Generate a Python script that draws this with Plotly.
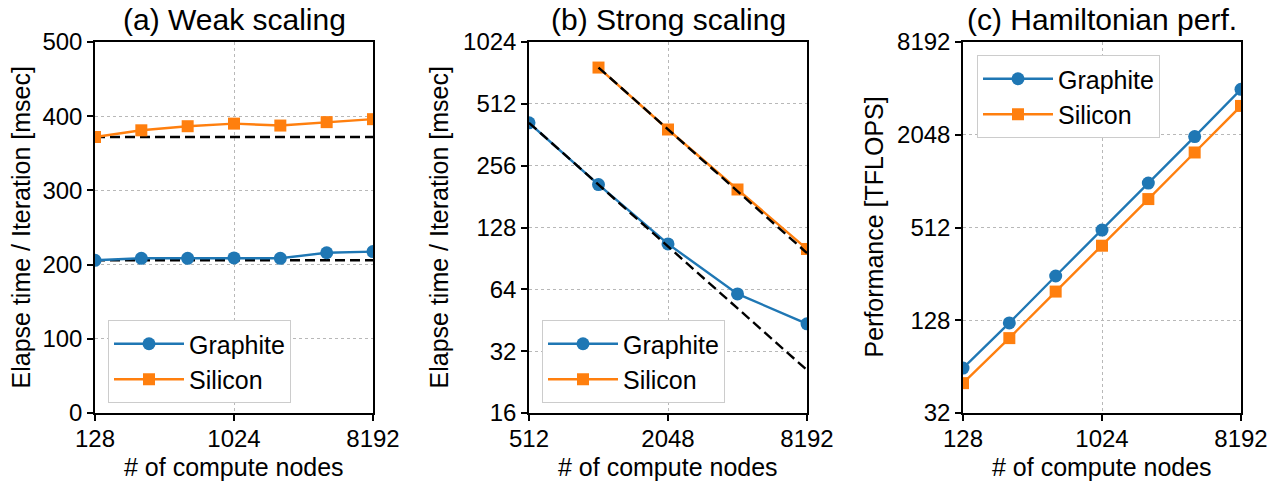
import plotly.graph_objects as go
import math

# ---------------- data ----------------
nodes_a = [128, 256, 512, 1024, 2048, 4096, 8192]
weak_graphite = [205.8, 208.5, 208.5, 209, 208.5, 216, 217.5]
weak_silicon = [372, 381, 386.5, 390, 387.4, 392, 396]

nodes_b_graphite = [512, 1024, 2048, 4096, 8192]
strong_graphite = [414, 207, 106.5, 60.8, 43.5]
nodes_b_silicon = [1024, 2048, 4096, 8192]
strong_silicon = [769, 384, 196, 100.6]

nodes_c = [128, 256, 512, 1024, 2048, 4096, 8192]
perf_graphite = [62.6, 123, 248, 493, 994, 1993, 4040]
perf_silicon = [50, 98, 196.5, 390, 783, 1571, 3150]

titles = ["(a) Weak scaling", "(b) Strong scaling", "(c) Hamiltonian perf."]
ylabels = ["Elapse time / Iteration [msec]", "Elapse time / Iteration [msec]", "Performance [TFLOPS]"]
xlabel = "# of compute nodes"
xticks_a = [128, 1024, 8192]
xticks_b = [512, 2048, 8192]
yticks_a = [0, 100, 200, 300, 400, 500]
yticks_b = [16, 32, 64, 128, 256, 512, 1024]
yticks_c = [32, 128, 512, 2048, 8192]

# ---------------- style ----------------
BLUE = "#1f77b4"
ORANGE = "#ff7f0e"
FONT = "Liberation Sans, Arial, sans-serif"
W, H = 1282, 484
plot_top, plot_bot = 42, 413
xdoms_px = [(95, 373), (529, 807), (963, 1241)]
ydom = [1 - plot_bot / H, 1 - plot_top / H]

fig = go.Figure()

def add_series(xa, ya, x, y, color, symbol, name, legend):
    fig.add_trace(go.Scatter(
        x=x, y=y, xaxis=xa, yaxis=ya, mode="lines+markers", name=name,
        line=dict(color=color, width=2.4),
        marker=dict(color=color, symbol=symbol, size=13 if symbol == "circle" else 12),
        legend=legend, cliponaxis=True))

def add_dash(xa, ya, x, y):
    fig.add_trace(go.Scatter(
        x=x, y=y, xaxis=xa, yaxis=ya, mode="lines", showlegend=False,
        line=dict(color="black", width=2.4, dash="10px,5px"), hoverinfo="skip"))

# (a)
add_dash("x", "y", nodes_a, [weak_graphite[0]] * len(nodes_a))
add_dash("x", "y", nodes_a, [weak_silicon[0]] * len(nodes_a))
add_series("x", "y", nodes_a, weak_graphite, BLUE, "circle", "Graphite", "legend")
add_series("x", "y", nodes_a, weak_silicon, ORANGE, "square", "Silicon", "legend")

# (b)
ideal_g = [strong_graphite[0] * nodes_b_graphite[0] / n for n in nodes_b_graphite]
ideal_s = [strong_silicon[0] * nodes_b_silicon[0] / n for n in nodes_b_silicon]
add_series("x2", "y2", nodes_b_graphite, strong_graphite, BLUE, "circle", "Graphite", "legend2")
add_series("x2", "y2", nodes_b_silicon, strong_silicon, ORANGE, "square", "Silicon", "legend2")
add_dash("x2", "y2", nodes_b_graphite, ideal_g)
add_dash("x2", "y2", nodes_b_silicon, ideal_s)

# (c)
add_series("x3", "y3", nodes_c, perf_graphite, BLUE, "circle", "Graphite", "legend3")
add_series("x3", "y3", nodes_c, perf_silicon, ORANGE, "square", "Silicon", "legend3")

tickfont = dict(family=FONT, size=24, color="black")
common_axis = dict(showline=True, linecolor="black", linewidth=1.5, mirror=True,
                   ticks="outside", ticklen=6, tickwidth=1.5, tickcolor="black",
                   showgrid=True, gridcolor="#b8b8b8", gridwidth=1, griddash="3px,3px",
                   zeroline=False, tickfont=tickfont, automargin=False)
xextra = dict(ticklabelstandoff=-3)

def xdom(i):
    a, b = xdoms_px[i]
    return [a / W, b / W]

def logx(vals):
    return dict(type="log", range=[math.log10(vals[0]), math.log10(vals[-1])],
                tickvals=vals, ticktext=[str(v) for v in vals])

layout = dict(
    template="none",
    width=W, height=H, margin=dict(l=0, r=0, t=0, b=0, pad=0, autoexpand=False),
    paper_bgcolor="white", plot_bgcolor="white",
    font=dict(family=FONT, color="black"),
    xaxis=dict(domain=xdom(0), anchor="y", **logx(xticks_a), **common_axis, **xextra),
    yaxis=dict(domain=ydom, anchor="x", range=[0, 500], tickvals=yticks_a, **common_axis),
    xaxis2=dict(domain=xdom(1), anchor="y2", **logx(xticks_b), **common_axis, **xextra),
    yaxis2=dict(domain=ydom, anchor="x2", type="log",
                range=[math.log10(yticks_b[0]), math.log10(yticks_b[-1])],
                tickvals=yticks_b, ticktext=[str(v) for v in yticks_b], **common_axis),
    xaxis3=dict(domain=xdom(2), anchor="y3", **logx(xticks_a), **common_axis, **xextra),
    yaxis3=dict(domain=ydom, anchor="x3", type="log",
                range=[math.log10(yticks_c[0]), math.log10(yticks_c[-1])],
                tickvals=yticks_c, ticktext=[str(v) for v in yticks_c], **common_axis),
)

legend_style = dict(bgcolor="white", bordercolor="#cccccc", borderwidth=1,
                    font=dict(family=FONT, size=25, color="black"),
                    xanchor="left", yanchor="top", itemwidth=70,
                    xref="paper", yref="paper")
layout["legend"] = dict(x=108 / W, y=1 - 320 / H, **legend_style)
layout["legend2"] = dict(x=542 / W, y=1 - 320 / H, **legend_style)
layout["legend3"] = dict(x=977 / W, y=1 - 55 / H, **legend_style)
fig.update_layout(**layout)

annotations = []
ylab_x = [20, 438, 873]
for i in range(3):
    a, b = xdoms_px[i]
    cx = (a + b) / 2 / W
    annotations.append(dict(text=titles[i], x=cx, y=1 - 20 / H, xref="paper", yref="paper",
                            xanchor="center", yanchor="middle", showarrow=False,
                            font=dict(family=FONT, size=30, color="black")))
    annotations.append(dict(text=xlabel, x=cx, y=1 - 467 / H, xref="paper", yref="paper",
                            xanchor="center", yanchor="middle", showarrow=False,
                            font=dict(family=FONT, size=25, color="black")))
    annotations.append(dict(text=ylabels[i], x=ylab_x[i] / W, y=1 - 227.5 / H,
                            xref="paper", yref="paper", xanchor="center", yanchor="middle",
                            textangle=-90, showarrow=False,
                            font=dict(family=FONT, size=25, color="black")))
fig.update_layout(annotations=annotations)

fig.write_html("out.html")
